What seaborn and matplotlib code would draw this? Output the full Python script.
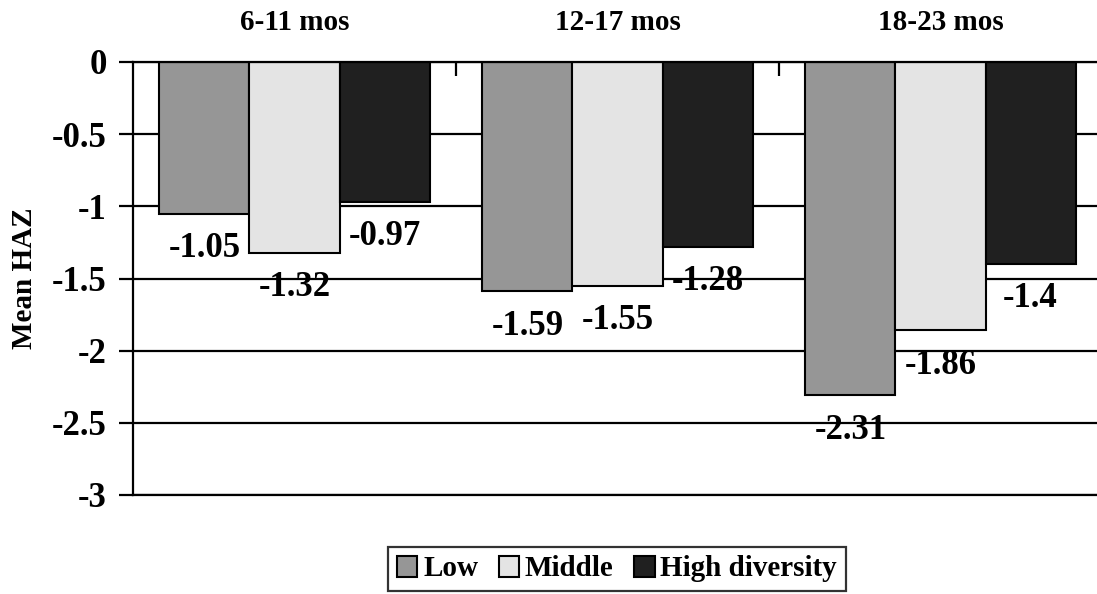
import matplotlib
matplotlib.use("Agg")
import matplotlib.pyplot as plt
import seaborn as sns
import pandas as pd

categories = ["6-11 mos", "12-17 mos", "18-23 mos"]
groups = ["Low", "Middle", "High diversity"]
low_vals = [-1.05, -1.59, -2.31]
middle_vals = [-1.32, -1.55, -1.86]
high_vals = [-0.97, -1.28, -1.40]
yticks = [0, -0.5, -1, -1.5, -2, -2.5, -3]
ytick_labels = ["0", "-0.5", "-1", "-1.5", "-2", "-2.5", "-3"]
colors = ["#969696", "#E4E4E4", "#202020"]

rows = []
for g, vals in zip(groups, [low_vals, middle_vals, high_vals]):
    for c, v in zip(categories, vals):
        rows.append({"age": c, "group": g, "haz": v})
df = pd.DataFrame(rows)

sns.set_style("white")
plt.rcParams["font.family"] = ["Liberation Serif", "DejaVu Serif"]
plt.rcParams["font.weight"] = "bold"
for k in ["text.color", "axes.labelcolor", "xtick.color", "ytick.color"]:
    plt.rcParams[k] = "black"

fig = plt.figure(figsize=(10.97, 5.94), dpi=100)
# the original plot area runs past the right edge of the image
ax = fig.add_axes([133 / 1097, 1 - 495 / 594, (1102 - 133) / 1097, (495 - 62) / 594])

sns.barplot(data=df, x="age", y="haz", hue="group", order=categories,
            hue_order=groups, palette=colors, width=0.836, gap=0,
            edgecolor="black", linewidth=1.5, ax=ax, legend=True,
            errorbar=None, saturation=1)

ax.set_ylim(-3, 0)
ax.set_xlim(-0.5, 2.5)
ax.set_yticks(yticks)
ax.set_yticklabels(ytick_labels, fontsize=25, fontweight="bold")
ax.yaxis.grid(True, color="black", linewidth=1.6)
ax.set_axisbelow(True)

ax.xaxis.tick_top()
ax.set_xticks(range(len(categories)))
ax.set_xticklabels(categories, fontsize=21, fontweight="bold")
ax.tick_params(axis="x", which="major", length=0, pad=19)
ax.set_xticks([0.5, 1.5], minor=True)
ax.tick_params(axis="x", which="minor", direction="in", length=10, width=1.6,
               color="black", top=True, bottom=False)
ax.tick_params(axis="y", direction="out", length=10, width=1.6, color="black",
               left=True, pad=9)
ax.set_xlabel("")
ax.set_ylabel("Mean HAZ", fontsize=21, fontweight="bold", labelpad=10)

for side in ["top", "left", "bottom"]:
    ax.spines[side].set_visible(True)
    ax.spines[side].set_color("black")
    ax.spines[side].set_linewidth(1.6)
ax.spines["right"].set_visible(False)

for cont in ax.containers:
    for bar in cont:
        h = bar.get_height()
        ax.annotate(f"{h:g}", (bar.get_x() + bar.get_width() / 2, h),
                    xytext=(0, -25), textcoords="offset points",
                    ha="center", va="center", fontsize=25, fontweight="bold")

handles, labels = ax.get_legend_handles_labels()
if ax.get_legend() is not None:
    ax.get_legend().remove()
leg = fig.legend(handles, labels, loc="center", bbox_to_anchor=(617 / 1097, 1 - 569 / 594),
                 ncol=3, frameon=True, fancybox=False, edgecolor="black",
                 prop={"size": 21, "weight": "bold"}, handlelength=0.7,
                 handleheight=0.7, handletextpad=0.2, columnspacing=0.7,
                 borderpad=0.3, borderaxespad=0)
leg.get_frame().set_linewidth(1.6)

fig.savefig("out.png", dpi=100)
